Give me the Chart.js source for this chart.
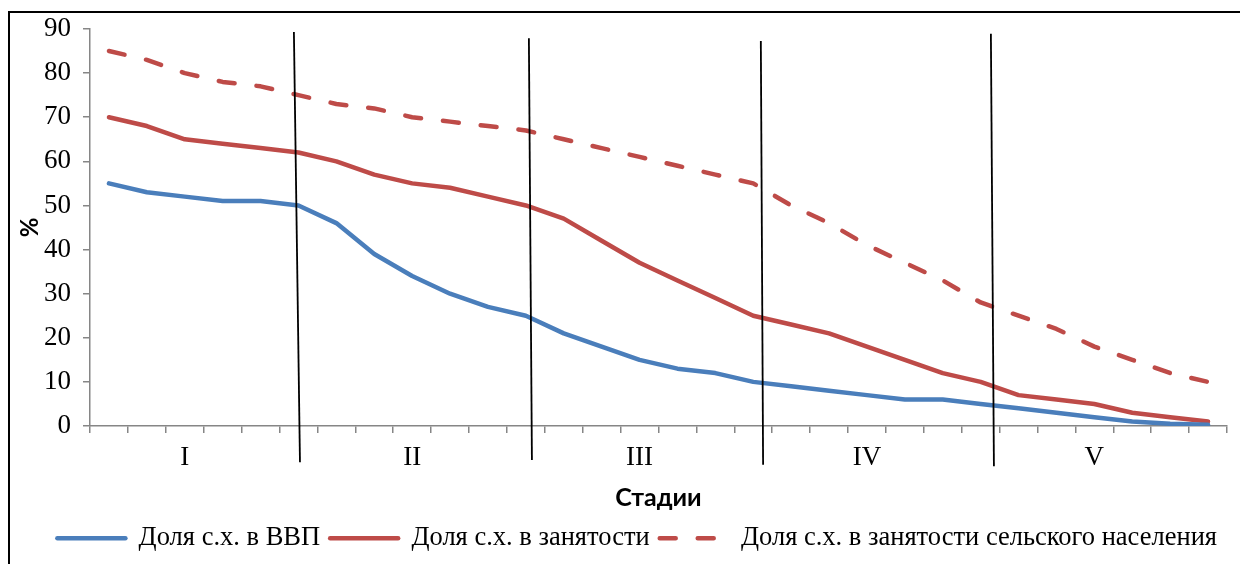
<!DOCTYPE html>
<html lang="ru">
<head>
<meta charset="utf-8">
<script src="https://cdn.jsdelivr.net/npm/chart.js@4/dist/chart.umd.min.js"></script>
<style>
  html, body { margin: 0; padding: 0; background: #fff; }
  #wrap { position: relative; width: 1240px; height: 564px; overflow: hidden; }
  #frame { position: absolute; left: 8px; top: 11px; width: 1300px; height: 600px;
           border-top: 2px solid #000; border-left: 2px solid #000; }
  #chart { position: absolute; left: 0; top: 0; }
</style>
</head>
<body>
<div id="wrap">
  <div id="frame"></div>
  <canvas id="chart" width="1240" height="564"></canvas>
</div>
<script>
// подписи стадий по оси X (30 точек, подпись в середине каждой стадии)
const stageLabels = [
  '', '', 'I', '', '', '',
  '', '', 'II', '', '', '',
  '', '', 'III', '', '', '',
  '', '', 'IV', '', '', '',
  '', '', 'V', '', '', ''
];

// значения рядов, %
const gdpShare = [55, 53, 52, 51, 51, 50, 46, 39, 34, 30, 27, 25, 21, 18, 15,
                  13, 12, 10, 9, 8, 7, 6, 6, 5, 4, 3, 2, 1, 0.5, 0.3];
const employmentShare = [70, 68, 65, 64, 63, 62, 60, 57, 55, 54, 52, 50, 47, 42, 37,
                         33, 29, 25, 23, 21, 18, 15, 12, 10, 7, 6, 5, 3, 2, 1];
const ruralEmploymentShare = [85, 83, 80, 78, 77, 75, 73, 72, 70, 69, 68, 67, 65, 63, 61,
                              59, 57, 55, 50, 46, 41, 37, 33, 28, 25, 22, 18, 15, 12, 10];

const yTicks = [0, 10, 20, 30, 40, 50, 60, 70, 80, 90];

// вертикальные разделители стадий (в единицах осей: индекс категории и %)
const separatorTopX = [4.88, 11.08, 17.2, 23.27];
const separatorBottomX = [5.04, 11.16, 17.26, 23.35];
const separatorTopY = [89.3, 87.9, 87.3, 88.9];
const separatorBottomY = [-8.2, -7.7, -8.8, -9.1];

const serif = "'Liberation Serif', 'Times New Roman', serif";
const sans = "Lato, 'Noto Sans', sans-serif";
const axisGray = '#868686';

const separators = {
    id: 'separators',
    afterDatasetsDraw(chart) {
        const { ctx, scales: { x, y } } = chart;
        ctx.save();
        ctx.strokeStyle = '#000';
        ctx.lineWidth = 1.8;
        separatorTopX.forEach((tx, i) => {
            ctx.beginPath();
            ctx.moveTo(x.getPixelForValue(tx), y.getPixelForValue(separatorTopY[i]));
            ctx.lineTo(x.getPixelForValue(separatorBottomX[i]), y.getPixelForValue(separatorBottomY[i]));
            ctx.stroke();
        });
        ctx.restore();
    }
};

const lineStyle = {
    borderWidth: 4.5,
    pointRadius: 0,
    pointHoverRadius: 0,
    tension: 0,
    borderCapStyle: 'round',
    borderJoinStyle: 'round',
    fill: false
};

const ctx = document.getElementById('chart').getContext('2d');
new Chart(ctx, {
    type: 'line',
    data: {
        labels: stageLabels,
        datasets: [
            { ...lineStyle, label: 'Доля с.х. в ВВП', data: gdpShare,
              borderColor: '#4A7EBB', backgroundColor: '#4A7EBB' },
            { ...lineStyle, label: 'Доля с.х. в занятости', data: employmentShare,
              borderColor: '#BE4B48', backgroundColor: '#BE4B48' },
            { ...lineStyle, label: 'Доля с.х. в занятости сельского населения', data: ruralEmploymentShare,
              borderColor: '#BE4B48', backgroundColor: '#BE4B48', borderDash: [16, 22] }
        ]
    },
    options: {
        responsive: false,
        animation: false,
        layout: { padding: { top: 29, right: 13, left: 0, bottom: 2.5 } },
        plugins: {
            legend: {
                position: 'bottom',
                align: 'end',
                labels: {
                    usePointStyle: true,
                    pointStyleWidth: 68,
                    padding: 10,
                    color: '#000',
                    font: { family: serif, size: 26.5 },
                    // образец линии в легенде с пунктиром как у ряда
                    generateLabels(chart) {
                        return chart.data.datasets.map((ds, i) => ({
                            text: ds.label,
                            datasetIndex: i,
                            hidden: false,
                            fillStyle: ds.borderColor,
                            strokeStyle: ds.borderColor,
                            fontColor: '#000',
                            lineWidth: ds.borderWidth,
                            lineDash: ds.borderDash || [],
                            lineCap: 'round',
                            pointStyle: 'line'
                        }));
                    }
                }
            },
            tooltip: { enabled: false }
        },
        scales: {
            x: {
                offset: true,
                grid: { offset: true, drawOnChartArea: false, tickLength: 7, color: axisGray, lineWidth: 1.5 },
                border: { color: axisGray, width: 1.5 },
                ticks: { autoSkip: false, maxRotation: 0, minRotation: 0, padding: 9, color: '#000',
                         font: { family: serif, size: 27 } },
                title: { display: true, text: 'Стадии', color: '#000',
                         font: { family: sans, size: 25, weight: 'bold' }, padding: { top: 0, bottom: 2 } },
                afterFit(scale) { scale.height = 89; }
            },
            y: {
                min: 0,
                max: 90,
                afterBuildTicks(scale) { scale.ticks = yTicks.map(v => ({ value: v })); },
                grid: { drawOnChartArea: false, tickLength: 7, color: axisGray, lineWidth: 1.5 },
                border: { color: axisGray, width: 1.5 },
                ticks: { padding: 12, color: '#000', font: { family: serif, size: 27 } },
                title: { display: true, text: '%', color: '#000',
                         font: { family: sans, size: 24, weight: 'bold' }, padding: { top: 15.5, bottom: 0 } },
                afterFit(scale) { scale.width = 90; }
            }
        }
    },
    plugins: [separators]
});
</script>
</body>
</html>
